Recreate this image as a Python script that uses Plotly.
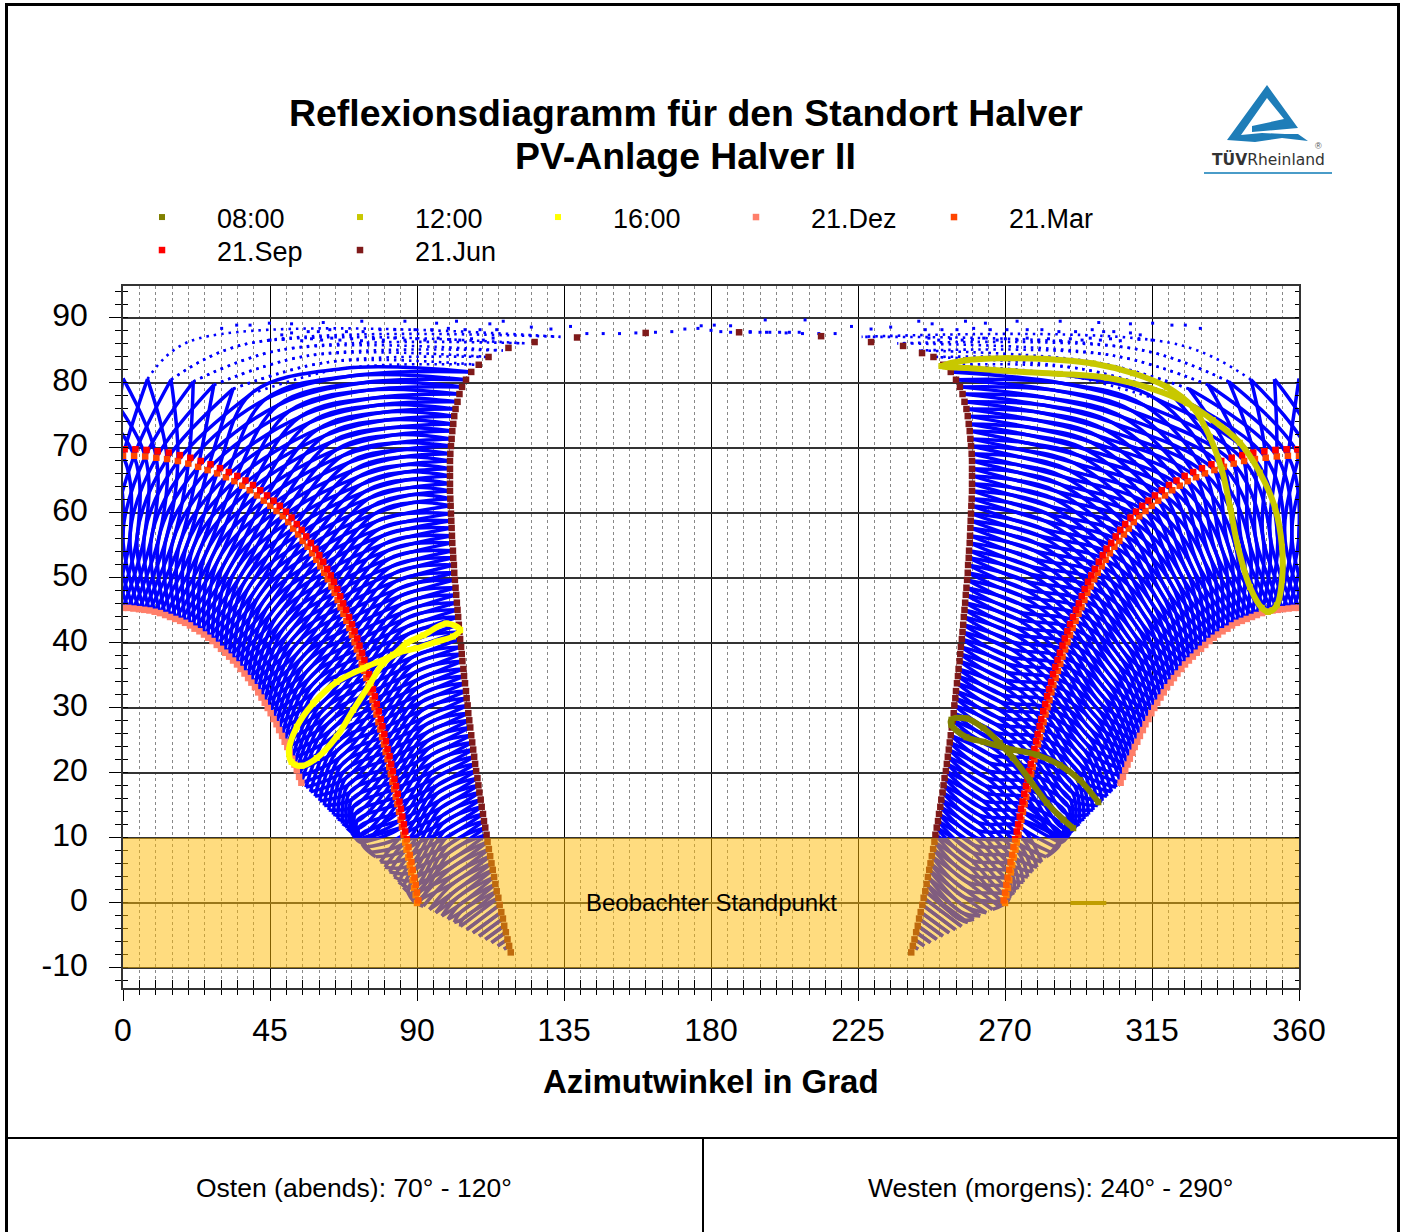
import plotly.graph_objects as go

FONT = "Liberation Sans"
W, H = 1405, 1232
PL, PR, PT, PB = 123, 1299, 286, 988

az_ticks = [0, 45, 90, 135, 180, 225, 270, 315, 360]
az_labels = ["0", "45", "90", "135", "180", "225", "270", "315", "360"]
el_ticks = [-10, 0, 10, 20, 30, 40, 50, 60, 70, 80, 90]
el_labels = ["-10", "0", "10", "20", "30", "40", "50", "60", "70", "80", "90"]

# 21 Dec, read along the lower edge (one entry per time step)
dec_az = [0,1.6,3.2,4.9,6.5,8.1,9.7,11.3,12.9,14.4,16,17.5,19,20.5,21.9,23.4,24.8,26.1,27.4,28.7,30,31.3,32.5,33.7,34.9,36,37.2,38.3,39.3,40.4,41.4,42.4,43.4,44.3,45.2,46.1,47,47.8,48.7,49.5,50.3,51,51.8,52.5,53.2,53.9,54.6]
dec_el = [45.4,45.4,45.3,45.2,45.1,45,44.8,44.6,44.3,44,43.7,43.4,43.1,42.7,42.2,41.8,41.3,40.8,40.3,39.7,39.1,38.5,37.9,37.3,36.7,36,35.3,34.6,33.9,33.2,32.4,31.6,30.8,30,29.2,28.3,27.5,26.6,25.7,24.8,24,23.1,22.2,21.3,20.4,19.4,18.5]
# an intermediate winter day
nov_az = [0,2.2,4.4,6.6,8.8,11,13.2,15.3,17.4,19.5,21.4,23.4,25.3,27.2,29,30.8,32.5,34.1,35.7,37.2,38.7,40.2,41.6,43,44.4,45.7,46.9,48.1,49.2,50.4,51.5,52.5,53.5,54.5,55.5,56.4,57.3,58.2,59,59.9,60.7,61.4,62.2,62.9,63.6,64.4,65.1,65.7,66.4,67,67.6,68.2,68.8,69.4,70,70.5,71.1,71.6,72.1,72.7,73.2]
nov_el = [56.8,56.8,56.7,56.6,56.4,56.2,56,55.7,55.3,55,54.6,54.2,53.7,53.2,52.6,52,51.4,50.8,50.1,49.4,48.7,47.9,47.2,46.4,45.6,44.8,43.9,43,42.2,41.3,40.4,39.5,38.5,37.6,36.7,35.7,34.7,33.7,32.7,31.7,30.7,29.7,28.7,27.7,26.6,25.6,24.5,23.5,22.4,21.3,20.2,19.2,18.1,17,15.9,14.8,13.7,12.6,11.5,10.4,9.3]
# 21 Mar
mar_az = [0,3.4,6.8,10.2,13.5,16.8,20,23,25.9,28.8,31.5,34.1,36.5,38.8,41,43.1,45.1,47,48.9,50.6,52.1,53.6,55,56.5,57.9,59.2,60.4,61.6,62.7,63.8,64.8,65.7,66.6,67.5,68.4,69.3,70.1,70.9,71.6,72.4,73.1,73.8,74.5,75.2,75.8,76.4,77,77.6,78.2,78.8,79.3,79.9,80.4,81,81.5,82,82.5,83,83.5,84,84.5,85,85.4,85.9,86.4,86.8,87.3,87.8,88.2,88.7,89.1,89.6,90]
mar_el = [68.8,68.8,68.7,68.5,68.3,68,67.6,67.1,66.6,66.1,65.5,64.9,64.2,63.5,62.7,61.9,61.1,60.3,59.5,58.6,57.6,56.7,55.7,54.8,53.8,52.8,51.8,50.8,49.8,48.7,47.7,46.6,45.5,44.5,43.4,42.3,41.2,40.1,39,37.9,36.8,35.7,34.6,33.5,32.4,31.2,30.1,29,27.8,26.7,25.5,24.4,23.2,22.1,20.9,19.8,18.6,17.5,16.3,15.2,14,12.8,11.7,10.5,9.3,8.2,7,5.8,4.7,3.5,2.3,1.2,0]
# 21 Sep
sep_az = [0.5,3.8,7.2,10.6,14,17.4,20.6,23.8,26.8,29.7,32.4,35,37.5,39.8,42,44.1,46.1,48,49.9,51.6,53.2,54.7,56.1,57.5,58.9,60.1,61.3,62.5,63.6,64.6,65.6,66.5,67.4,68.3,69.2,70.1,70.9,71.7,72.4,73.2,73.9,74.6,75.3,75.9,76.5,77.1,77.7,78.3,78.9,79.4,80,80.5,81,81.6,82.1,82.6,83.1,83.6,84.1,84.6,85.1,85.5,86,86.4,86.9,87.4,87.8,88.3,88.7,89.2,89.6,90,90.4]
sep_el = [69.8,69.8,69.7,69.5,69.3,68.9,68.5,68,67.5,66.9,66.3,65.7,65,64.3,63.5,62.7,61.9,61.1,60.2,59.3,58.3,57.4,56.4,55.4,54.5,53.5,52.5,51.4,50.4,49.4,48.3,47.2,46.1,45.1,44,42.9,41.8,40.7,39.6,38.5,37.4,36.3,35.2,34,32.9,31.8,30.6,29.5,28.3,27.2,26,24.9,23.7,22.6,21.4,20.3,19.1,18,16.8,15.6,14.5,13.3,12.1,11,9.8,8.6,7.4,6.3,5.1,3.9,2.8,1.6,0.4]
# an intermediate spring day
may_az = [0,7.5,14.7,21.5,27.8,33.7,39.1,43.6,47.5,51,54.2,57.1,59.7,61.8,63.7,65.5,67.2,68.9,70.5,71.8,73,74.1,75.1,76.1,77.1,77.9,78.7,79.5,80.2,81,81.7,82.3,82.9,83.6,84.2,84.8,85.4,85.9,86.4,86.9,87.4,87.9,88.4,88.9,89.3,89.8,90.3,90.7,91.2,91.6,92,92.5,92.9,93.3,93.7,94.1,94.5,95,95.4,95.8,96.2,96.6,97,97.5,97.9,98.3,98.7,99.1,99.5,100,100.4,100.8,101.2,101.6,102.1,102.5,103,103.4,103.9]
may_el = [80.7,80.6,80.5,80.2,79.7,79.1,78.3,77.5,76.6,75.7,74.8,73.9,72.9,71.9,70.9,69.8,68.8,67.7,66.6,65.5,64.4,63.3,62.2,61,59.9,58.8,57.6,56.5,55.3,54.2,53,51.8,50.7,49.5,48.3,47.2,46,44.8,43.7,42.5,41.4,40.2,39.1,37.9,36.8,35.6,34.4,33.3,32.1,31,29.8,28.6,27.5,26.3,25.1,24,22.8,21.6,20.4,19.3,18.1,17,15.8,14.7,13.5,12.4,11.2,10.1,8.9,7.8,6.6,5.5,4.3,3.2,2,0.9,-0.3,-1.4,-2.5]
# a day just before midsummer (upper part of the fan only)
upp_az = [0,20.4,36.8,48.5,56.7,62.6,67,70.3,73,75.1,76.9,78.4,79.8,80.8,81.9,82.9,83.8,84.6,85.4,86,86.6,87.2,87.8,88.3,88.8]
upp_el = [86.7,86.4,85.9,85.1,84.2,83.2,82.2,81.1,80,78.9,77.7,76.6,75.5,74.3,73.1,72,70.8,69.7,68.6,67.4,66.3,65.1,63.9,62.8,61.6]
# 21 Jun
jun_az = [180,152.4,133.9,123,116.3,111.9,108.9,106.6,105,103.8,103,102.4,101.8,101.4,101.1,100.8,100.6,100.4,100.2,100.1,100.1,100.1,100.1,100.1,100.2,100.3,100.4,100.5,100.6,100.7,100.8,101,101.1,101.3,101.4,101.6,101.8,102,102.2,102.4,102.6,102.8,103,103.2,103.5,103.7,103.9,104.2,104.4,104.7,105,105.2,105.5,105.7,106,106.3,106.6,106.9,107.2,107.5,107.8,108.1,108.5,108.8,109.1,109.5,109.8,110.2,110.5,110.9,111.3,111.6,112,112.4,112.8,113.2,113.6,114,114.4,114.9,115.3,115.8,116.3,116.7,117.2,117.7,118.2,118.7]
jun_el = [88.2,87.9,87.1,86.1,85,84,82.8,81.7,80.5,79.4,78.3,77.1,76,74.9,73.7,72.6,71.4,70.3,69.1,68,66.8,65.7,64.5,63.4,62.2,61.1,59.9,58.8,57.7,56.5,55.4,54.2,53.1,52,50.8,49.7,48.5,47.4,46.2,45.1,44,42.8,41.7,40.6,39.4,38.3,37.2,36,34.9,33.8,32.6,31.5,30.4,29.2,28.1,27,25.8,24.7,23.6,22.5,21.4,20.3,19.2,18.1,17,15.9,14.8,13.7,12.6,11.6,10.5,9.4,8.3,7.2,6.1,5.1,4,2.9,1.8,0.8,-0.3,-1.4,-2.4,-3.5,-4.5,-5.6,-6.6,-7.6]
jun_top_az = [118,126,139,160,188.6,213.7,229,238.8,244.6]
jun_top_el = [85.4,86.3,87,87.7,87.8,87.2,86.3,85.7,84.6]
# lower straight edge of the fan, for the time steps after 21 Dec has ended (steps 47 to 87)
edge_az = [56,57.4,58.8,60.2,61.6,63,64.4,65.8,67.2,68.6,70,71.2,72.2,73.2,74.6,76,77.4,78.8,80.2,81.6,83,84.4,85.8,87.2,88.6,90,91.9,93.8,95.7,97.6,99.5,101.4,103.3,105.2,107.1,109,110.9,112.8,114.7,116.6,118.7]
edge_el = [17.8,17.1,16.4,15.7,15,14.3,13.6,12.9,12.2,11.5,10.8,10.2,9.8,9.3,8.6,7.8,7.1,6.3,5.5,4.8,4,3.2,2.4,1.6,0.8,0,-0.5,-1,-1.5,-2,-2.5,-3,-3.6,-4.1,-4.6,-5.1,-5.6,-6.1,-6.6,-7.1,-7.6]

# sparse dots along the top of the fan (east half)
dots_az = [30.2,34.8,38.9,44.8,51.6,61.3,73.1,86.3,96,102.1,112.3,116.4,48.6,51.6,56.7,59.8,63.3,68.4,73.5,78.7,83.2,89.4,94.5,99.6,104.7,109.3,114.4,45,49,54.7,57.7,60.8,63.9,66.4,70,73,76.7,79.7,83.2,86.3,89.9,92.4,96.5,100,103.1,106.7,110.3,113.3,125,131,137,142,147,152,157,163,168]
dots_el = [88.4,88.9,88.9,89.2,89.1,89.3,89.5,89.5,89.2,89.5,89.1,89.5,87.4,87.7,87.9,87.9,88.2,87.9,87.9,88.2,88.2,88.2,88.2,88.4,88.2,88.2,88.2,86.6,86.7,86.5,86.8,86.6,86.9,86.6,86.8,86.5,86.8,86.6,86.9,86.6,86.8,86.6,86.9,86.7,86.6,86.8,86.6,86.9,88.6,88.3,88.7,87.6,87.6,87.6,87.7,87.8,87.9]
# dots across the middle of the chart, around due south
mid_az = [172,176,180,183,186,189,192,195,198,201,204,207,196.6,208.8,186,181,177]
mid_el = [88.3,88.4,88.1,87.9,87.8,87.8,87.8,87.8,87.8,87.8,87.8,87.8,89.7,89.7,88.8,88.9,88.8]

# clock-time loops
t16_az = [103.2,99,92,86.9,82.7,73.5,65.4,58.2,53.2,50.8,51.6,54.7,59.3,65.4,70.5,75.7,79.7,83.9,89.9,96,101,103.2]
t16_el = [42,43,41.2,40,38.2,36.1,34,30.7,27.1,23.5,21.7,21.1,22.3,25.6,29.7,33.8,36.9,38.4,39.2,40.2,41,42]
t08_az = [290.9,287.9,282.8,277.6,272.5,268.4,263.4,258.2,253.6,253.6,258.2,263.4,270.4,279.7,286.8,292.9,298.6]
t08_el = [11.5,12.8,15.4,18.9,22.3,24.6,26.9,28.4,28.2,27.4,25.5,24.8,23.8,22.8,21.2,18.9,15.5]
t12_az = [250.6,258.2,270.5,282.7,297,309.2,319.5,327.6,332.7,336.4,338.9,341.3,345,348.6,350.5,353.2,354.8,354.8,352.6,348,341.9,333.6,325.7,314.3,301.2,286.8,272.4,258.3,250.6]
t12_el = [82.6,83.5,83.8,83.7,83,81.5,79.4,76.2,71.7,66.6,60.9,54.8,48.6,45.4,44.8,45.8,49.7,54.8,60.9,66.2,70.8,74.3,76.9,79.2,80.8,81.4,81.8,82.3,82.6]
obs_az = [290, 301]
obs_el = [0, 0]


def at(az, el, i):
    k = abs(i)
    if k >= len(az):
        return None
    return (az[k] if i >= 0 else -az[k], el[k])


def edge(j):
    k = abs(j) - 47
    if k < 0 or k >= len(edge_az):
        return None
    return (edge_az[k] if j > 0 else -edge_az[k], edge_el[k])


solid_x, solid_y, dash_x, dash_y = [], [], [], []


def add(pts, xs, ys):
    pts = [p for p in pts if p is not None]
    if len(pts) < 2:
        return
    for shift in (0, 360):
        vx = [p[0] + shift for p in pts]
        if max(vx) < 0 or min(vx) > 360:
            continue
        xs.extend(vx + [None])
        ys.extend([p[1] for p in pts] + [None])


for j in range(-87, 88):
    for a, b, c in ((-3, -1, 0), (3, 2, -1)):
        low = [edge(j), at(dec_az, dec_el, j), at(nov_az, nov_el, j + a), at(mar_az, mar_el, j + b), at(may_az, may_el, j + c)]
        up = [at(may_az, may_el, j + c), at(upp_az, upp_el, j + c), at(jun_az, jun_el, j)]
        if abs(j) <= 6:
            add(low, solid_x, solid_y)
            if abs(j) >= 2:
                add(up, dash_x, dash_y)
        else:
            add(low + up[1:], solid_x, solid_y)

BLUE = "#0000FF"
fig = go.Figure()
fig.add_trace(go.Scatter(x=solid_x, y=solid_y, mode="lines", showlegend=False, hoverinfo="skip",
                         line=dict(color=BLUE, width=3.5, shape="spline")))
fig.add_trace(go.Scatter(x=dash_x, y=dash_y, mode="lines", showlegend=False, hoverinfo="skip",
                         line=dict(color=BLUE, width=2.6, shape="spline", dash="2.5px,5px")))
fig.add_trace(go.Scatter(x=dots_az + [360 - a for a in dots_az] + mid_az, y=dots_el + dots_el + mid_el, mode="markers",
                         showlegend=False, hoverinfo="skip",
                         marker=dict(color=BLUE, size=3, symbol="square")))


def both(az):
    return list(az) + [360 - a for a in az]


def series(name, az, el, color, rank, legend):
    fig.add_trace(go.Scatter(x=az, y=el, mode="markers", name=name, legendrank=rank, legend=legend,
                             marker=dict(color=color, size=6.5, symbol="square", line=dict(width=0))))


series("21.Dez", both(dec_az), dec_el + dec_el, "#FF7F6A", 4, "legend")
series("21.Mar", both(mar_az), mar_el + mar_el, "#FF4500", 5, "legend")
series("21.Sep", both(sep_az), sep_el + sep_el, "#FF0000", 6, "legend2")
series("21.Jun", both(jun_az[5:]) + jun_top_az, jun_el[5:] + jun_el[5:] + jun_top_el, "#7F1A1A", 7, "legend2")

fig.add_trace(go.Scatter(x=obs_az, y=obs_el, mode="lines", showlegend=False, hoverinfo="skip",
                         line=dict(color="#808000", width=4)))
for nm, az, el, col, rank in (("08:00", t08_az, t08_el, "#808000", 1),
                              ("12:00", t12_az, t12_el, "#C8C800", 2),
                              ("16:00", t16_az, t16_el, "#FFFF00", 3)):
    fig.add_trace(go.Scatter(x=az, y=el, mode="lines", showlegend=False, hoverinfo="skip",
                             line=dict(color=col, width=6, shape="spline")))
    fig.add_trace(go.Scatter(x=az, y=el, mode="markers", name=nm, legendrank=rank,
                             marker=dict(color=col, size=6, symbol="square", line=dict(width=0))))

# carriers for the tick-only overlay axes
fig.add_trace(go.Scatter(x=[None], y=[None], xaxis="x2", yaxis="y2", showlegend=False))
fig.add_trace(go.Scatter(x=[None], y=[None], xaxis="x", yaxis="y3", showlegend=False))

X_RANGE = [0, 360]
Y_RANGE = [-13.08, 94.92]
legend_common = dict(orientation="h", x=(107 - PL) / (PR - PL), xanchor="left", yanchor="top",
                     font=dict(size=27, family=FONT), itemwidth=100, entrywidth=83, entrywidthmode="pixels",
                     bgcolor="rgba(0,0,0,0)", itemclick=False, itemdoubleclick=False, traceorder="normal")
fig.update_layout(
    width=W, height=H, autosize=False,
    margin=dict(l=PL, r=W - PR, t=PT, b=H - PB, pad=0),
    paper_bgcolor="white", plot_bgcolor="white",
    font=dict(family=FONT, color="black"),
    showlegend=True,
    legend=dict(y=(PB - 193) / (PB - PT), **legend_common),
    legend2=dict(y=(PB - 226) / (PB - PT), **legend_common),
    xaxis=dict(range=X_RANGE, tickmode="array", tickvals=az_ticks, ticktext=az_labels,
               tickfont=dict(size=32), ticks="outside", ticklen=11, tickcolor="black", tickwidth=1,
               ticklabelstandoff=2,
               showgrid=True, gridcolor="black", gridwidth=1, zeroline=False,
               showline=True, linecolor="#333333", linewidth=1.5, mirror=True,
               minor=dict(tick0=0, dtick=5, ticks="outside", ticklen=5, tickcolor="black", tickwidth=1,
                          showgrid=True, gridcolor="#888888", gridwidth=1, griddash="3px,3px")),
    yaxis=dict(range=Y_RANGE, tickmode="array", tickvals=el_ticks, ticktext=el_labels,
               tickfont=dict(size=32), ticks="outside", ticklen=12, tickcolor="black", tickwidth=1,
               ticklabelstandoff=15, ticklabelshift=-3,
               showgrid=True, gridcolor="#333333", gridwidth=1.5, zeroline=False,
               showline=True, linecolor="#333333", linewidth=1.5, mirror=True,
               minor=dict(tick0=0, dtick=2, ticks="outside", ticklen=6, tickcolor="black", tickwidth=1,
                          showgrid=False)),
    xaxis2=dict(overlaying="x", side="bottom", range=X_RANGE, anchor="y2", tickmode="array", tickvals=az_ticks,
                ticks="inside", ticklen=8, tickcolor="black", showticklabels=False, showgrid=False, zeroline=False,
                minor=dict(tick0=0, dtick=5, ticks="inside", ticklen=8, tickcolor="black", showgrid=False)),
    yaxis2=dict(overlaying="y", side="left", range=Y_RANGE, anchor="x2", tickmode="array", tickvals=el_ticks,
                ticks="", showticklabels=False, showgrid=False, zeroline=False,
                minor=dict(tick0=0, dtick=2, ticks="inside", ticklen=5, tickcolor="black", showgrid=False)),
    yaxis3=dict(overlaying="y", side="right", range=Y_RANGE, anchor="x", tickmode="array", tickvals=el_ticks,
                ticks="", showticklabels=False, showgrid=False, zeroline=False,
                minor=dict(tick0=0, dtick=2, ticks="inside", ticklen=4, tickcolor="black", showgrid=False)),
)


def px(x):
    return (x - PL) / (PR - PL)


def py(y):
    return (PB - y) / (PB - PT)


def label(text, x, y, size, bold=False, color="black", family=FONT):
    t = f"<b>{text}</b>" if bold else text
    fig.add_annotation(text=t, x=px(x), y=py(y), xref="paper", yref="paper", showarrow=False,
                       xanchor="center", yanchor="middle", font=dict(size=size, family=family, color=color))


label("Reflexionsdiagramm für den Standort Halver", 685.5, 113, 37.4, True)
label("PV-Anlage Halver II", 685, 156, 37.4, True)
label("Azimutwinkel in Grad", 711, 1081, 33, True)
label("Osten (abends): 70° - 120°", 354, 1188, 26.5)
label("Westen (morgens): 240° - 290°", 1050, 1188, 26.5)
fig.add_annotation(text="Beobachter Standpunkt", x=180, y=0, xref="x", yref="y", showarrow=False,
                   font=dict(size=24, family=FONT, color="black"))
label("<b>TÜV</b>Rheinland", 1268, 159, 15.5, False, "#333333", "DejaVu Sans")
label("®", 1318, 146, 9, False, "#555555")

shapes = [
    dict(type="rect", xref="x", yref="y", x0=0, x1=360, y0=-10, y1=10, layer="above",
         fillcolor="rgba(255,185,0,0.5)", line=dict(width=0)),
]


def pline(x0, y0, x1, y1, w, color="black"):
    shapes.append(dict(type="line", xref="paper", yref="paper", x0=px(x0), x1=px(x1), y0=py(y0), y1=py(y1),
                       line=dict(color=color, width=w), layer="above"))


pline(6.5, 3, 6.5, 1232, 3)
pline(1398.5, 3, 1398.5, 1232, 3)
pline(5, 4.5, 1400, 4.5, 3)
pline(8, 1138, 1397, 1138, 2)
pline(703, 1138, 703, 1232, 2)
pline(1204, 173, 1332, 173, 2, "#4A9CC8")

logo = [(1267, 85), (1298, 128), (1252, 132), (1252, 126), (1284, 119), (1267, 98), (1241, 135), (1262, 133),
        (1285, 134), (1298, 134), (1308, 141), (1282, 138), (1255, 142), (1227, 140)]
path = "M" + " L".join(f"{px(a)},{py(b)}" for a, b in logo) + " Z"
shapes.append(dict(type="path", xref="paper", yref="paper", path=path, fillcolor="#1E7DB8",
                   line=dict(width=0), layer="above"))
fig.update_layout(shapes=shapes)

fig.write_html("out.html", config={"displayModeBar": False},
               post_script="document.body.style.margin='0';document.body.style.overflow='hidden';")
